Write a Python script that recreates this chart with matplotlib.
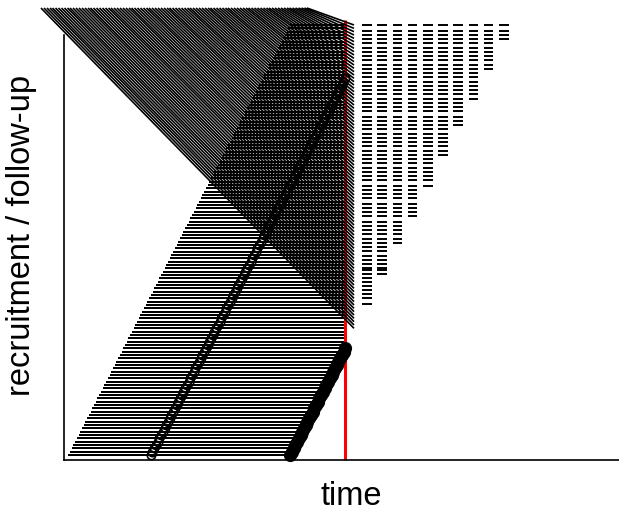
import matplotlib
matplotlib.use("Agg")
import matplotlib.pyplot as plt
from matplotlib.collections import LineCollection

plt.rcParams['font.family'] = ['Liberation Sans', 'DejaVu Sans']

# ---- data (time in days, subjects indexed bottom -> top) ----
recruit_days = [8, 11, 15, 18, 22, 25, 29, 32, 36, 39, 42, 46, 49, 53, 56, 60, 63, 66, 70, 73,
                 77, 80, 84, 87, 91, 94, 97, 101, 104, 108, 111, 115, 118, 122, 125, 128, 132, 135, 139, 142,
                 146, 149, 152, 156, 159, 163, 166, 170, 173, 177, 180, 183, 187, 190, 194, 197, 201, 204, 208, 211,
                 214, 218, 221, 225, 228, 232, 235, 238, 242, 245, 249, 252, 256, 259, 263, 266, 269, 273, 276, 280,
                 283, 287, 290, 294, 297, 300, 304, 307, 311, 314, 318, 321, 324, 328, 331, 335, 338, 342, 345, 349,
                 352, 355, 359, 362, 366, 369, 373, 376, 380, 383, 386, 390, 393, 397, 400, 404, 407, 410, 414, 417,
                 421, 424, 428, 431, 435, 438, 441, 445, 448, 452]
analysis_day = 562          # red line
visit1_offset = 165         # open circles
final_offset = 444          # filled circles (completed follow-up)

diag_first_subject = 38
diag_top_level = 134.1
diag_end_day = 580
diag_top_days = [-46, -40, -34, -28, -23, -17, -11, -5, 1, 7,
                 12, 18, 24, 30, 36, 42, 48, 53, 59, 65,
                 71, 77, 83, 89, 94, 100, 106, 112, 118, 124,
                 130, 135, 141, 147, 153, 159, 165, 170, 176, 182,
                 188, 194, 200, 206, 211, 217, 223, 229, 235, 241,
                 247, 252, 258, 264, 270, 276, 282, 288, 293, 299,
                 305, 311, 317, 323, 328, 334, 340, 346, 352, 358,
                 364, 369, 375, 381, 387, 393, 399, 405, 410, 416,
                 422, 428, 434, 440, 446, 451, 457, 463, 469, 475,
                 481, 486]

dash_col_days = [606, 636, 667, 697, 728, 758, 788, 819, 849, 880]
dash_col_bottom = [45.3, 54.3, 63.6, 71.4, 81.0, 90.0, 98.4, 106.5, 115.5, 124.8]
dash_rows = [129.0,
             127.2, 126.0, 124.8, 123.6,
             122.1, 120.9, 119.7, 118.5,
             117.0, 115.8, 114.6, 113.4,
             111.9, 110.7, 109.5, 108.3,
             106.8, 105.6, 104.4, 103.2,
             101.4, 100.2, 99.0, 97.8,
             96.3, 95.1, 93.9, 92.7,
             91.2, 90.0, 88.8, 87.6,
             86.1, 84.9, 83.7, 82.5,
             80.7, 79.5, 78.3, 77.1,
             75.3, 74.1, 72.9, 71.7,
             70.0, 68.8, 67.6, 66.4,
             64.8, 63.6, 62.4, 61.2,
             59.8, 58.6, 57.4, 56.2,
             55.6, 54.4, 53.2, 52.0,
             50.6, 49.4, 48.2, 47.0,
             45.4]
dash_half = 9.5

# ---- figure ----
fig = plt.figure(figsize=(6.19, 5.12), dpi=100)
ax = fig.add_axes([64/619, (512-460)/512, (619-64)/619, (460-8)/512])
ax.set_xlim(0, 1110)
ax.set_ylim(-1.5, 134.1)
ax.set_xticks([])
ax.set_yticks([])
for s in ['top', 'right']:
    ax.spines[s].set_visible(False)
ax.spines['left'].set_bounds(-1.5, 126)
ax.spines['left'].set_linewidth(1.2)
ax.spines['bottom'].set_linewidth(1.2)

subjects = list(range(len(recruit_days)))

# follow-up horizontal lines
ends = [min(r + final_offset, analysis_day) for r in recruit_days]
hl = ax.hlines(subjects, recruit_days, ends, colors='black', linewidth=1.1)
hl.set_antialiased(False)
hl.set_clip_on(False)

# red analysis line
rl = ax.vlines(analysis_day, -1.5, 130.5, colors='#FF0000', linewidth=2.2)
rl.set_clip_on(False)

# diagonal projection lines
segs = []
for k, top in enumerate(diag_top_days):
    subj = diag_first_subject + k
    segs.append([(top, diag_top_level), (diag_end_day, subj)])
lc = LineCollection(segs, colors='black', linewidths=1.2)
lc.set_clip_on(False)
ax.add_collection(lc)

# open circles: first visit
v1x = [r + visit1_offset for r in recruit_days if r + visit1_offset <= analysis_day]
v1y = [i for i, r in zip(subjects, recruit_days) if r + visit1_offset <= analysis_day]
ax.plot(v1x, v1y, 'o', mfc='none', mec='black', ms=6, mew=1.2, clip_on=False)

# filled circles: completed follow-up
fx = [r + final_offset for r in recruit_days if r + final_offset <= analysis_day]
fy = [i for i, r in zip(subjects, recruit_days) if r + final_offset <= analysis_day]
ax.plot(fx, fy, 'o', color='black', ms=8.5, clip_on=False)

# dashes right of the analysis line
for cx, bottom in zip(dash_col_days, dash_col_bottom):
    rows = [y for y in dash_rows if y >= bottom - 0.3]
    d = ax.hlines(rows, cx - dash_half, cx + dash_half, colors='black', linewidth=1.4)
    d.set_clip_on(False)

fig.text(351/619, 1 - 505/512, 'time', ha='center', va='baseline', fontsize=23.5)
fig.text(22/619, 1 - 235/512, 'recruitment / follow-up', ha='center', va='center',
         rotation=90, fontsize=23.5)

fig.savefig('out.png', dpi=100)
